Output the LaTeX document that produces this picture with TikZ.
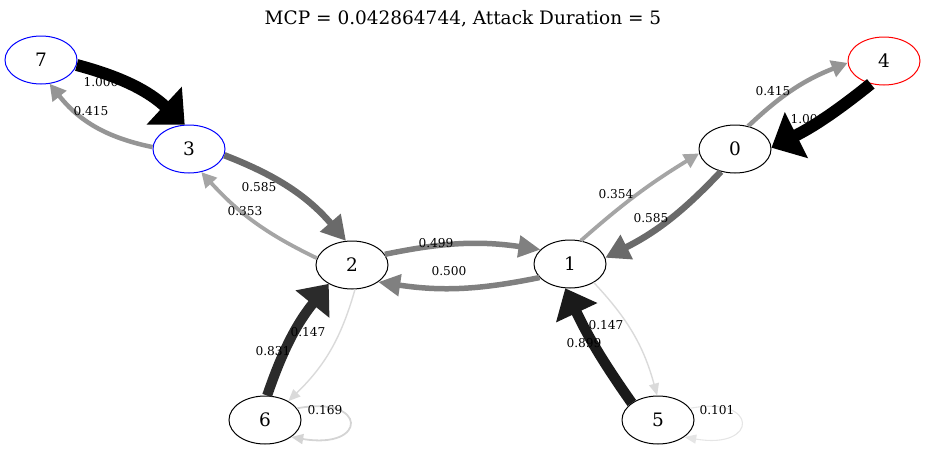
\documentclass[tikz,border=0pt]{standalone}
\usepackage{fontspec}
\setmainfont{DejaVu Serif}
\usetikzlibrary{shapes.geometric,arrows.meta}

% edge greys: darker for heavier weights
\definecolor{w1000}{gray}{0.0}
\definecolor{w899}{gray}{0.101}
\definecolor{w831}{gray}{0.169}
\definecolor{w585}{gray}{0.415}
\definecolor{w500}{gray}{0.50}
\definecolor{w415}{gray}{0.585}
\definecolor{w354}{gray}{0.646}
\definecolor{w169}{gray}{0.831}
\definecolor{w147}{gray}{0.853}
\definecolor{w101}{gray}{0.899}

\tikzset{
  gnode/.style={ellipse, draw, line width=1pt, minimum width=72pt, minimum height=48pt,
    inner sep=0pt, font=\fontsize{18.5}{22}\selectfont},
  elabel/.style={inner sep=0pt, font=\fontsize{12.2}{14}\selectfont},
  wedge/.style n args={4}{line width=#1, draw=#2, -{Triangle[length=#3,width=#4]}},
}

\begin{document}
\begin{tikzpicture}[x=1pt, y=1pt]
\useasboundingbox (0,0) rectangle (926,-450);

\node[font=\fontsize{18.5}{22}\selectfont, inner sep=0pt] (title) at (463,-19)
  {MCP = 0.042864744, Attack Duration = 5};

% states
\node[gnode, draw=blue] (n7) at (41,-60) {7};
\node[gnode, draw=blue] (n3) at (189,-149) {3};
\node[gnode, draw=red]  (n4) at (884,-61) {4};
\node[gnode] (n0) at (735,-149) {0};
\node[gnode] (n2) at (352,-265) {2};
\node[gnode] (n1) at (570,-264) {1};
\node[gnode] (n6) at (265,-420) {6};
\node[gnode] (n5) at (658,-420) {5};

% transitions
\draw[wedge={12pt}{w1000}{28pt}{50pt}] (n7.-8) to[bend left=14] (n3.100);
\draw[wedge={4.5pt}{w415}{16pt}{17pt}] (n3.177) to[bend left=20] (n7.-70);
\draw[wedge={6.5pt}{w585}{24pt}{26pt}] (n3.-10) to[bend left=14] (n2.104);
\draw[wedge={3.8pt}{w354}{15pt}{15pt}] (n2.169) to[bend left=11] (n3.-62);
\draw[wedge={5.5pt}{w500}{22pt}{21pt}] (n2.18) to[bend left=10] (n1.154);
\draw[wedge={5.5pt}{w500}{22pt}{21pt}] (n1.-156) to[bend left=10] (n2.-33);
\draw[wedge={6.5pt}{w585}{24pt}{26pt}] (n0.238) to[bend left=10] (n1.10);
\draw[wedge={3.8pt}{w354}{15pt}{15pt}] (n1.65) to[bend left=5] (n0.187);
\draw[wedge={4.5pt}{w415}{16pt}{17pt}] (n0.60) to[bend left=11] (n4.183);
\draw[wedge={12pt}{w1000}{28pt}{50pt}] (n4.240) to[bend left=6] (n0.2);
\draw[wedge={10pt}{w831}{26pt}{42pt}] (n6.85) to[bend left=10] (n2.219);
\draw[wedge={1.4pt}{w147}{12pt}{10pt}] (n2.-83) to[bend left=15] (n6.39);
\draw[wedge={1.8pt}{w169}{12pt}{10pt}] (n6.20) .. controls (368,-395) and (368,-450) .. (n6.-33);
\draw[wedge={10.5pt}{w899}{27pt}{44pt}] (n5.147) to[bend left=5] (n1.259);
\draw[wedge={1.4pt}{w147}{12pt}{10pt}] (n1.-38) to[bend left=14] (n5.92);
\draw[wedge={1.1pt}{w101}{12pt}{9pt}] (n5.20) .. controls (759,-395) and (759,-450) .. (n5.-33);

% transition probabilities, set over the edges
\node[elabel] (l73) at (101,-82)  {1.000};
\node[elabel] (l37) at (91,-111)  {0.415};
\node[elabel] (l32) at (259,-187) {0.585};
\node[elabel] (l23) at (245,-211) {0.353};
\node[elabel] (l21) at (436,-243) {0.499};
\node[elabel] (l12) at (449,-271) {0.500};
\node[elabel] (l10) at (616,-194) {0.354};
\node[elabel] (l01) at (651,-218) {0.585};
\node[elabel] (l04) at (773,-91)  {0.415};
\node[elabel] (l40) at (808,-119) {1.000};
\node[elabel] (l62) at (273,-351) {0.831};
\node[elabel] (l26) at (308,-332) {0.147};
\node[elabel] (l66) at (325,-410) {0.169};
\node[elabel] (l51) at (584,-343) {0.899};
\node[elabel] (l15) at (606,-325) {0.147};
\node[elabel] (l55) at (717,-410) {0.101};
\end{tikzpicture}
\end{document}
